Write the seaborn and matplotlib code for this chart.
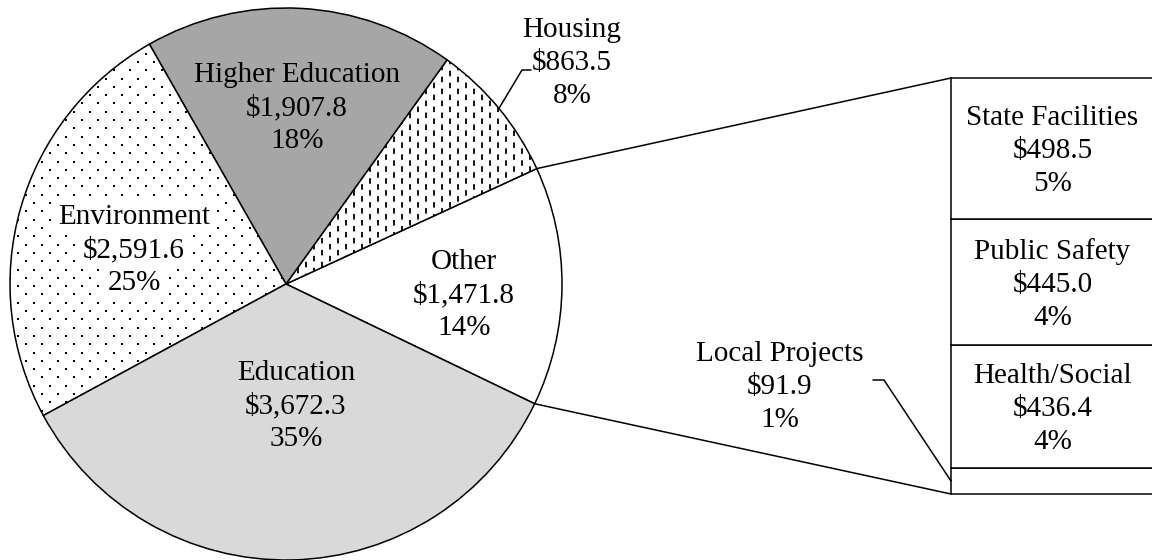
import matplotlib
matplotlib.use("Agg")
import matplotlib.pyplot as plt
import numpy as np
import seaborn as sns

# ---- data ----
pie_categories = ["Other", "Housing", "Higher Education", "Environment", "Education"]
pie_values = [1471.8, 863.5, 1907.8, 2591.6, 3672.3]
pie_percents = [14, 8, 18, 25, 35]
pie_colors = ["white", "white", "#a6a6a6", "white", "#d9d9d9"]

other_categories = ["Local Projects", "Health/Social", "Public Safety", "State Facilities"]
other_values = [91.9, 436.4, 445.0, 498.5]
other_percents = [1, 4, 4, 5]

# ---- style ----
sns.set_theme(style="white")
plt.rcParams["font.family"] = ["Liberation Serif", "DejaVu Serif"]
plt.rcParams["lines.scale_dashes"] = False

W, H = 1152, 560
FS = 21
LINE = 33
LW = 1.1

fig = plt.figure(figsize=(W / 100, H / 100), dpi=100)
ax = fig.add_axes([0, 0, 1, 1])
ax.set_zorder(2)


def Y(y):
    return H - y


def label(x, yc, lines, box=False):
    n = len(lines)
    for i, s in enumerate(lines):
        yy = yc + (n - 1) / 2 * LINE - i * LINE
        kw = {}
        if box:
            kw["bbox"] = dict(facecolor="white", edgecolor="none", pad=1.5)
        ax.text(x, yy - 10, s, ha="center", va="baseline", fontsize=FS,
                color="black", zorder=6, **kw)


def fmt(v):
    return f"${v:,.1f}"


# ---- pie ----
cx, cy, R = 286, Y(284), 276
total = sum(pie_values)
start = -pie_values[0] / total * 180 - 0.5
wedges, _ = ax.pie(pie_values, center=(cx, cy), radius=R, startangle=start,
                   counterclock=True, colors=pie_colors,
                   wedgeprops=dict(edgecolor="black", linewidth=LW), frame=True)
ax.set_xlim(0, W)
ax.set_ylim(0, H)
ax.set_aspect("equal")
ax.axis("off")

# dotted texture for Environment
gx = np.arange(cx - R, cx + R + 16, 16)
gy = np.arange(cy - R, cy + R + 8, 8.3)
pts = np.array([(x + (8 if i % 2 else 0), y) for i, y in enumerate(gy) for x in gx])
dots = ax.scatter(pts[:, 0], pts[:, 1], s=2.2, marker="s", color="black",
                  linewidths=0, zorder=1.5)
dots.set_clip_path(wedges[3])

# dashed texture for Housing
xs = np.arange(cx - R, cx + R, 8)
styles = [(0, (4.0, 4.6)) if i % 2 == 0 else (4.3, (4.0, 4.6)) for i in range(len(xs))]
vl = ax.vlines(xs, cy - R, cy + R, colors="black", linewidths=1.3,
               linestyles=styles, zorder=1.5)
vl.set_clip_path(wedges[1])

# pie labels
label_pos = {"Other": (464, 292), "Housing": (572, 60),
             "Higher Education": (297, 105), "Environment": (134, 247),
             "Education": (296, 403)}
for name, val, pct in zip(pie_categories, pie_values, pie_percents):
    x, y = label_pos[name]
    label(x, Y(y), [name, fmt(val), f"{pct}%"], box=(name == "Environment"))

# Housing leader line
wh = wedges[1]
tm = np.deg2rad((wh.theta1 + wh.theta2) / 2)
hp = (cx + R * np.cos(tm), cy + R * np.sin(tm))
ax.plot([hp[0], 522, 531], [hp[1], Y(70), Y(70)], color="black", lw=LW, zorder=5)

# ---- stacked bar for "Other" ----
bx0, bx1, by_top, by_bot = 951, 1154, 78, 494
bax = fig.add_axes([bx0 / W, (H - by_bot) / H, (bx1 - bx0) / W, (by_bot - by_top) / H])
bax.set_zorder(1)
bottoms = np.concatenate([[0], np.cumsum(other_values)[:-1]])
for name, val, b in zip(other_categories, other_values, bottoms):
    sns.barplot(x=[0], y=[val], bottom=b, width=1, orient="x", color="white",
                saturation=1, edgecolor="black", linewidth=LW, ax=bax)
bax.set_xlim(-0.5, 0.5)
bax.set_ylim(0, sum(other_values))
bax.axis("off")
for p in bax.patches:
    p.set_clip_on(False)

to_main = ax.transData.inverted()
for name, val, b, pct in zip(other_categories, other_values, bottoms, other_percents):
    if name == "Local Projects":
        continue
    px, py = to_main.transform(bax.transData.transform((0, b + val / 2)))
    label(px, py, [name, fmt(val), f"{pct}%"])

# Local Projects label and leader
lp = to_main.transform(bax.transData.transform((-0.5, other_values[0] / 2)))
label(780, Y(384), [other_categories[0], fmt(other_values[0]), f"{other_percents[0]}%"])
ax.plot([lp[0], 884, 873], [lp[1], Y(380), Y(380)], color="black", lw=LW, zorder=5)

# ---- connector lines from "Other" wedge to bar ----
w0 = wedges[0]
t1, t2 = np.deg2rad(w0.theta1), np.deg2rad(w0.theta2)
top_corner = to_main.transform(bax.transData.transform((-0.5, sum(other_values))))
bot_corner = to_main.transform(bax.transData.transform((-0.5, 0)))
ax.plot([cx + R * np.cos(t2), top_corner[0]], [cy + R * np.sin(t2), top_corner[1]],
        color="black", lw=LW, zorder=5)
ax.plot([cx + R * np.cos(t1), bot_corner[0]], [cy + R * np.sin(t1), bot_corner[1]],
        color="black", lw=LW, zorder=5)

fig.savefig("out.png", dpi=100, facecolor="white")
